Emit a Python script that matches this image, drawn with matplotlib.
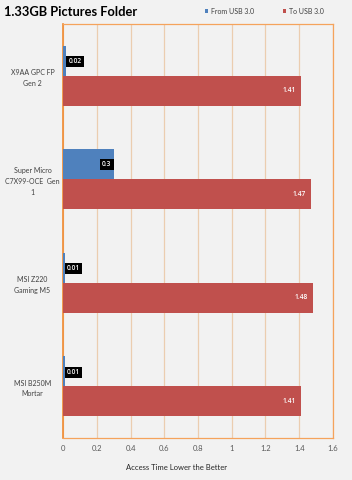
import numpy as np
import matplotlib.pyplot as plt

boards = ['X9AA GPC FP\nGen 2', 'Super Micro\nC7X99-OCE  Gen\n1', 'MSI Z220\nGaming M5', 'MSI B250M\nMortar']
from_usb = [0.02, 0.3, 0.01, 0.01]
to_usb = [1.41, 1.47, 1.48, 1.41]
xticks = [0, 0.2, 0.4, 0.6, 0.8, 1, 1.2, 1.4, 1.6]

plt.rcParams['font.family'] = ['Lato', 'DejaVu Sans']

BLUE = '#4F81BD'
RED = '#C0504D'
BG = '#F2F2F2'
ORANGE = '#F5A35C'
GRID = '#EBCDB0'
LBL = dict(fontsize=4.8, family=['Open Sans', 'DejaVu Sans'], fontweight='semibold', color='white', zorder=4)

fig = plt.figure(figsize=(3.52, 4.8), dpi=100, facecolor=BG)
ax = fig.add_axes([0.179, 0.0875, 0.767, 0.8625], facecolor=BG)

y = np.arange(len(boards))
h = 0.29
b1 = ax.barh(y - h / 2, from_usb, height=h, color=BLUE, label='From USB 3.0', zorder=3)
b2 = ax.barh(y + h / 2, to_usb, height=h, color=RED, label='To USB 3.0', zorder=3)

for yi, v in zip(y, from_usb):
    if v > 0.1:
        ax.text(v - 0.012, yi - h / 2, str(v), ha='right', va='center',
                bbox=dict(boxstyle='square,pad=0.3', fc='black', ec='none'), **LBL)
    else:
        ax.text(v + 0.012, yi - h / 2 + 0.01, str(v), ha='left', va='center',
                bbox=dict(boxstyle='square,pad=0.3', fc='black', ec='none'), **LBL)

for yi, v in zip(y, to_usb):
    ax.text(v - 0.03, yi + h / 2, str(v), ha='right', va='center', **LBL)

ax.set_xlim(0, 1.6)
ax.set_ylim(3.5, -0.5)
ax.set_xticks(xticks)
ax.set_xticklabels([('%g' % t) for t in xticks], fontsize=5.5, color='#595959')
ax.set_yticks(y)
ax.set_yticklabels(boards, fontsize=5, color='#404040', ha='center', linespacing=1.6)
ax.tick_params(axis='y', length=0, pad=22)
ax.tick_params(axis='x', length=0, pad=5)
ax.grid(axis='x', color=GRID, linewidth=0.9, zorder=0)

for side in ['top', 'right', 'bottom']:
    ax.spines[side].set_color(ORANGE)
    ax.spines[side].set_linewidth(0.9)
ax.spines['left'].set_color('#F08A30')
ax.spines['left'].set_linewidth(1.2)

fig.text(0.012, 0.974, '1.33GB Pictures Folder', fontsize=9.3, fontweight='bold',
         va='center', ha='left', color='black')
fig.text(0.5, 0.027, 'Access Time Lower the Better', fontsize=5.5, color='#262626',
         ha='center', va='center')

fig.legend(handles=[b1, b2], loc='center left', bbox_to_anchor=(0.565, 0.977), ncol=2,
           frameon=False, fontsize=5, handlelength=0.45, handleheight=0.45,
           handletextpad=0.35, columnspacing=4.2, labelcolor='#404040')

fig.savefig('out.png', dpi=100, facecolor=BG)
